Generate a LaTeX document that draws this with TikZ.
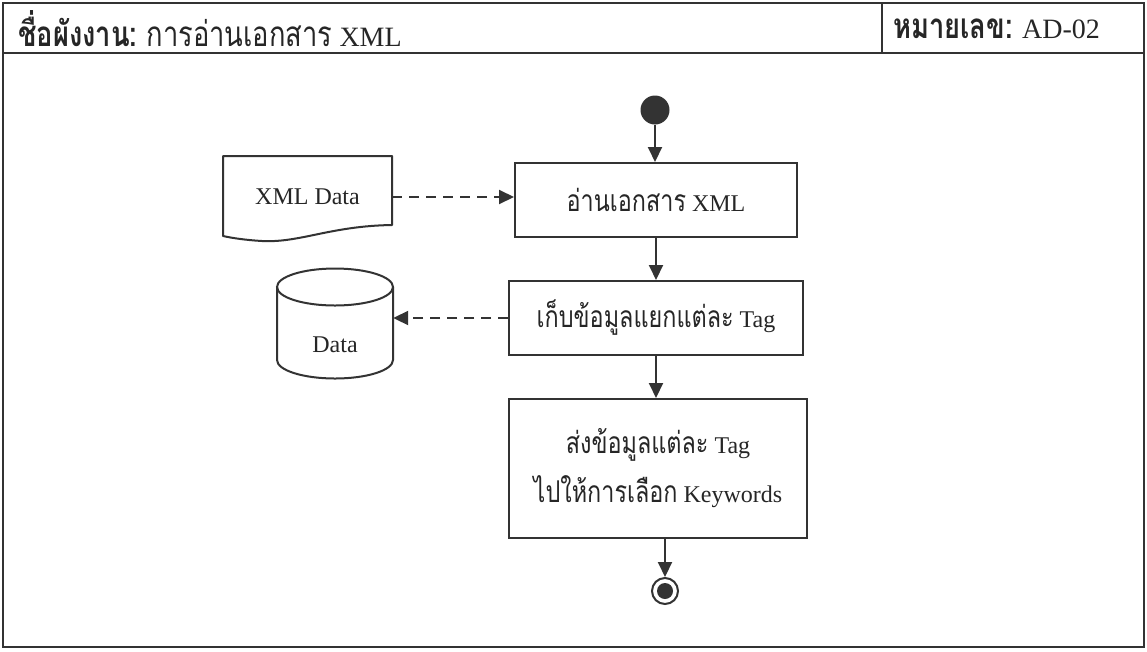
\documentclass[tikz,border=0pt]{standalone}
\usepackage{fontspec}
\setmainfont{Liberation Serif}
\newfontfamily\thaifont[Script=Thai,Scale=1.25,FakeStretch=0.78]{Loma}
\usetikzlibrary{arrows.meta,calc}
\definecolor{ink}{HTML}{333333}
\definecolor{txt}{HTML}{262626}
\newcommand{\tth}[1]{{\thaifont #1}}
\begin{document}
\begin{tikzpicture}[x=1pt,y=-1pt,
  frame/.style={draw=ink,line width=1.5pt},
  stepbox/.style={draw=ink,line width=2pt,inner sep=0pt,font=\fontsize{24}{49}\selectfont,text=txt,align=center},
  arr/.style={draw=ink,line width=2pt,-{Triangle[length=15pt,width=14pt]}},
  dasharr/.style={arr,dash pattern=on 10pt off 7pt},
  lbl/.style={font=\fontsize{24}{30}\selectfont,text=txt,inner sep=0pt},
  hdr/.style={font=\fontsize{28}{32}\selectfont,text=txt,inner sep=0pt}
]
\useasboundingbox (0,0) rectangle (1147,651);
\fill[white] (0,0) rectangle (1147,651);
% frame and header
\draw[frame] (3,3) rectangle (1144,647);
\draw[frame] (3,53) -- (1144,53);
\draw[frame] (882,3) -- (882,53);
\node[hdr,anchor=west] (title) at (18,29) {\tth{\bfseries ชื่อผังงาน:} \tth{การอ่านเอกสาร} XML};
\node[hdr,anchor=west] (num) at (893,29) {\tth{\bfseries หมายเลข:} AD-02};
% activity boxes
\node[stepbox,minimum width=282pt,minimum height=74pt] (b1) at (656,200) {\tth{อ่านเอกสาร} XML};
\node[stepbox,minimum width=294pt,minimum height=74pt] (b2) at (656,318) {\tth{เก็บข้อมูลแยกแต่ละ} Tag};
\node[stepbox,minimum width=298pt,minimum height=139pt] (b3) at (658,468.5) {\tth{ส่งข้อมูลแต่ละ} Tag\\\tth{ไปให้การเลือก} Keywords};
% start / end
\node[circle,fill=ink,minimum size=29pt,inner sep=0pt] (start) at (655,110) {};
\node[circle,draw=ink,line width=2pt,fill=white,minimum size=26pt,inner sep=0pt] (end) at (665,591) {};
\fill[ink] (end.center) circle (8pt);
% document shape
\node[lbl,minimum width=169pt,minimum height=20pt] (doc) at (307.5,197) {XML Data};
\draw[draw=ink,line width=2pt,line join=round]
  (223,156) -- (392,156) -- (392,225)
  .. controls (330,226) and (300,243) .. (262,241)
  .. controls (245,240) and (232,238) .. (223,236) -- cycle;
% database cylinder
\node[lbl,minimum width=116pt,minimum height=20pt] (db) at (335,345) {Data};
\draw[draw=ink,line width=2pt] (335,287) ellipse [x radius=58pt,y radius=18.5pt];
\draw[draw=ink,line width=2pt] (277,287) -- (277,360)
  arc[start angle=180,end angle=360,x radius=58pt,y radius=18.5pt] -- (393,287);
% connectors
\draw[arr] (start) -- (start |- b1.north);
\draw[arr] (b1) -- (b2);
\draw[arr] (b2.south) -- (b2.south |- b3.north);
\draw[arr] (end |- b3.south) -- (end.north);
\draw[dasharr] (doc.east) -- (doc.east -| b1.west);
\draw[dasharr] (b2.west) -- (b2.west -| db.east);
\end{tikzpicture}
\end{document}
